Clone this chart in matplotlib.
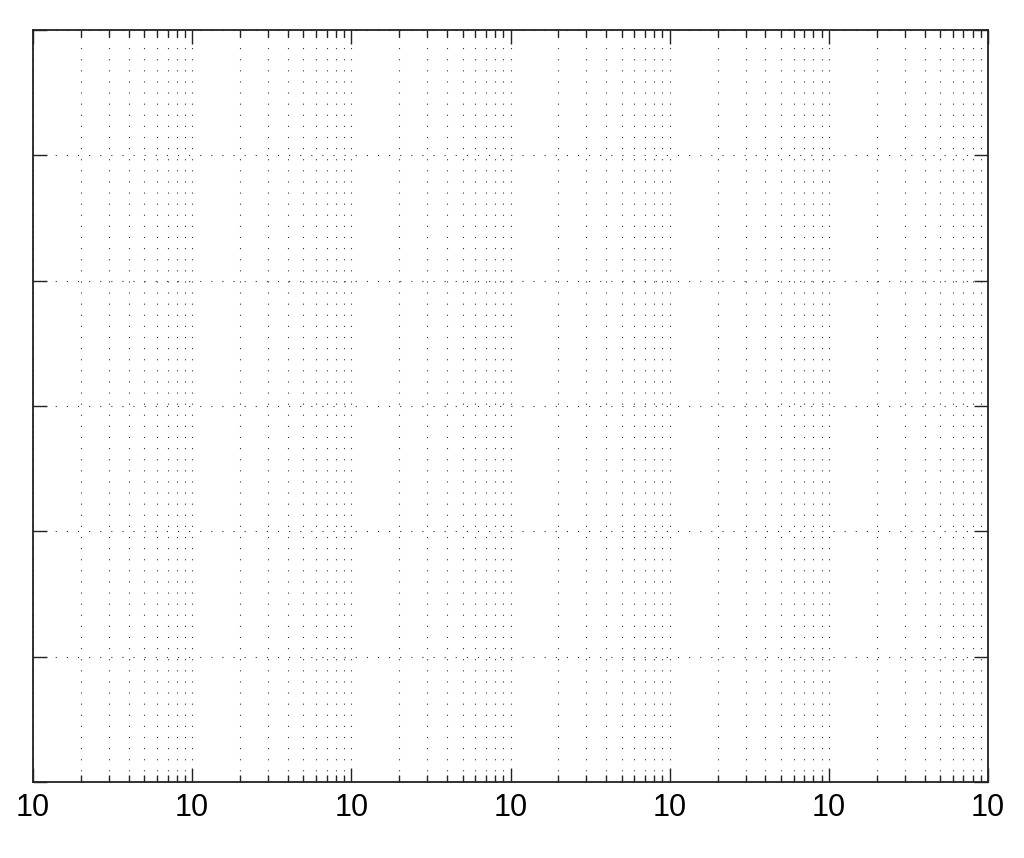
import matplotlib
matplotlib.use("Agg")
import matplotlib.pyplot as plt
from matplotlib.ticker import FixedLocator, LogLocator, NullFormatter, NullLocator

plt.rcParams['font.family'] = ['Liberation Sans', 'DejaVu Sans']

# Axis data
x_min, x_max = 1e0, 1e6
x_decades = [1e0, 1e1, 1e2, 1e3, 1e4, 1e5, 1e6]
x_tick_labels = ["10", "10", "10", "10", "10", "10", "10"]
y_min, y_max = 0, 6
y_ticks = [0, 1, 2, 3, 4, 5, 6]

fig = plt.figure(figsize=(10.24, 8.58), dpi=100)
ax = fig.add_axes([33/1024, 1 - 782/858, (988 - 33)/1024, (782 - 30)/858])
ax.set_xscale('log')
ax.set_xlim(x_min, x_max)
ax.set_ylim(y_min, y_max)

ax.xaxis.set_major_locator(FixedLocator(x_decades))
ax.set_xticklabels(x_tick_labels)
ax.xaxis.set_minor_locator(LogLocator(base=10, subs=range(2, 10), numticks=100))
ax.xaxis.set_minor_formatter(NullFormatter())
ax.yaxis.set_major_locator(FixedLocator(y_ticks))
ax.yaxis.set_minor_locator(NullLocator())
ax.set_yticklabels([])

ax.tick_params(which='both', direction='in', top=True, right=True, color='#222222')
ax.tick_params(which='major', length=10, width=1.0, labelsize=22, pad=8)
ax.tick_params(which='minor', length=5, width=1.0)
for s in ax.spines.values():
    s.set_linewidth(1.3)
    s.set_color('#222222')

dot = (0, (1, 9))
ax.grid(True, which='major', axis='both', linestyle=dot, linewidth=0.8, color='#333333')
ax.grid(True, which='minor', axis='x', linestyle=dot, linewidth=0.8, color='#333333')

fig.savefig('out.png', dpi=100)
